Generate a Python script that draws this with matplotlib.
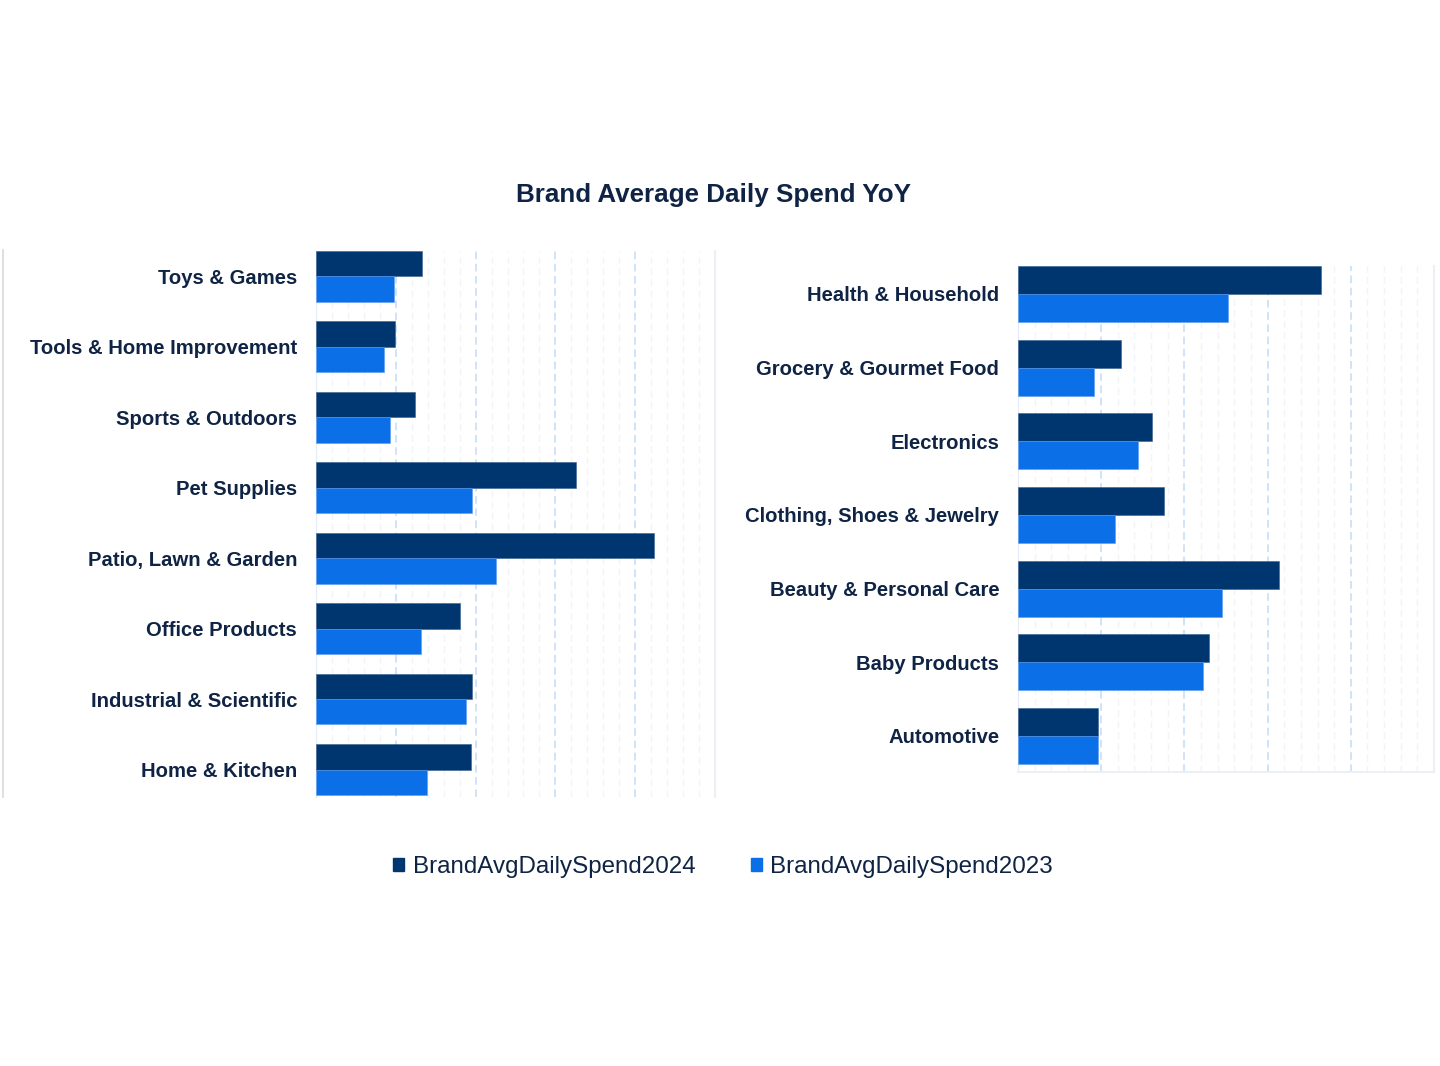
import numpy as np
import matplotlib.pyplot as plt
from matplotlib.lines import Line2D
from matplotlib.ticker import MultipleLocator

plt.rcParams['font.family'] = ['Liberation Sans', 'DejaVu Sans']

# left panel
left_cats = ['Toys & Games', 'Tools & Home Improvement', 'Sports & Outdoors', 'Pet Supplies',
             'Patio, Lawn & Garden', 'Office Products', 'Industrial & Scientific', 'Home & Kitchen']
left_2024 = [1.33, 0.99, 1.24, 3.26, 4.24, 1.80, 1.95, 1.94]
left_2023 = [0.98, 0.85, 0.93, 1.96, 2.26, 1.31, 1.88, 1.39]

# right panel
right_cats = ['Health & Household', 'Grocery & Gourmet Food', 'Electronics', 'Clothing, Shoes & Jewelry',
              'Beauty & Personal Care', 'Baby Products', 'Automotive']
right_2024 = [3.64, 1.24, 1.61, 1.76, 3.14, 2.30, 0.96]
right_2023 = [2.53, 0.91, 1.44, 1.16, 2.45, 2.22, 0.96]

series_names = ['BrandAvgDailySpend2024', 'BrandAvgDailySpend2023']

c24 = '#00366f'
c23 = '#0b6fe8'
txt = '#0f2444'

fig = plt.figure(figsize=(14.4, 10.66), dpi=100)

def panel(rect, cats, v24, v23, ylim, bh, edge):
    ax = fig.add_axes(rect)
    y = np.arange(len(cats))
    ax.barh(y - bh / 2, v24, height=bh, color=c24, edgecolor='#3a5f8f', linewidth=0.4, zorder=3)
    ax.barh(y + bh / 2, v23, height=bh, color=c23, edgecolor='#5a9af0', linewidth=0.4, zorder=3)
    ax.set_xlim(0, 5)
    ax.set_ylim(*ylim)
    ax.set_yticks(y)
    ax.set_yticklabels(cats, fontsize=14.6, fontweight='bold', color=txt)
    ax.tick_params(axis='y', length=0, pad=13.5)
    ax.xaxis.set_major_locator(MultipleLocator(1))
    ax.xaxis.set_minor_locator(MultipleLocator(0.2))
    ax.tick_params(axis='x', which='both', length=0, labelbottom=False)
    ax.grid(axis='x', which='major', color='#c4dbf6', linestyle=(0, (5, 3)), linewidth=1.1, zorder=0)
    ax.grid(axis='x', which='minor', color='#f1f4f8', linestyle=(0, (5, 3)), linewidth=1, zorder=0)
    ax.grid(axis='y', visible=False)
    for s in ['top', 'bottom', 'left', 'right']:
        ax.spines[s].set_visible(False)
    ax.spines['left'].set_visible(True)
    ax.spines['left'].set_color('#e3ecf8')
    ax.spines['right'].set_visible(True)
    ax.spines['right'].set_color('#eceff3')
    ax.spines['right'].set_linewidth(1.5)
    if edge:
        ax.spines['bottom'].set_visible(True)
        ax.spines['bottom'].set_color('#eceff3')
        ax.spines['bottom'].set_linewidth(1.5)
    return ax

panel([316 / 1440, 1 - 797 / 1066, 399 / 1440, 546 / 1066], left_cats, left_2024, left_2023,
      (7.39, -0.36), 0.36, False)
panel([1018 / 1440, 1 - 772 / 1066, 416 / 1440, 506 / 1066], right_cats, right_2024, right_2023,
      (6.49, -0.38), 0.38, True)

fig.text(714 / 1440, 1 - 195 / 1066, 'Brand Average Daily Spend YoY', ha='center', va='center',
         fontsize=18.7, fontweight='bold', color=txt)

fig.add_artist(Line2D([3 / 1440, 3 / 1440], [1 - 250 / 1066, 1 - 797 / 1066],
                      color='#d9d9d9', linewidth=1.2))

handles = [plt.Rectangle((0, 0), 1, 1, color=c24), plt.Rectangle((0, 0), 1, 1, color=c23)]
fig.legend(handles, series_names, loc='center', bbox_to_anchor=(723 / 1440, 1 - 867 / 1066),
           ncol=2, frameon=False, fontsize=17.4, handlelength=0.45, handleheight=0.45,
           handletextpad=0.35, columnspacing=2.3, labelcolor=txt)

fig.savefig('out.png', dpi=100, facecolor='white')
